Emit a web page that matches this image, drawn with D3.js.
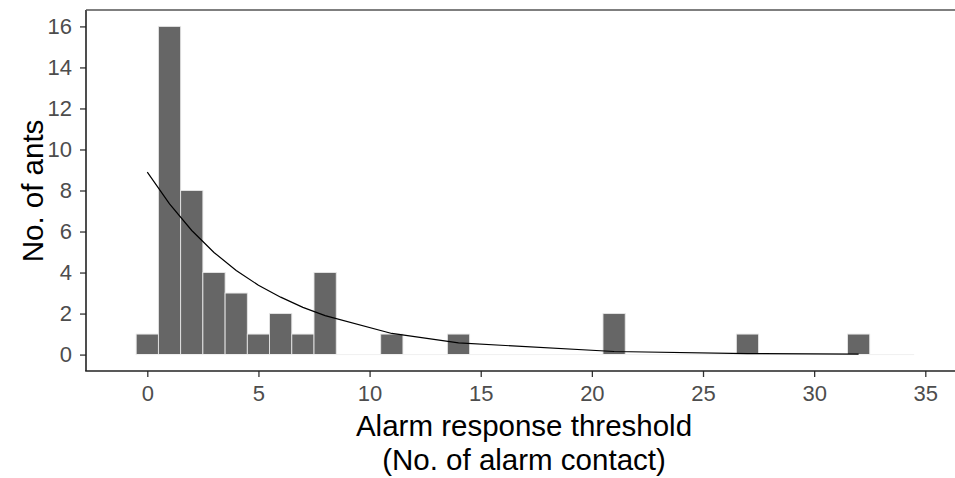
<!DOCTYPE html>
<html>
<head>
<meta charset="utf-8">
<script src="https://cdn.jsdelivr.net/npm/d3@7/dist/d3.min.js"></script>
<style>
  html, body { margin: 0; padding: 0; background: #fff; }
  svg { display: block; font-family: "Liberation Sans", Arial, sans-serif; }
</style>
</head>
<body>
<svg id="chart" width="955" height="478"></svg>
<script>
// Histogram of alarm response thresholds (bin width 1, bins centred on integers)
const thresholds = [0, 1, 2, 3, 4, 5, 6, 7, 8, 9, 10, 11, 12, 13, 14, 15, 16, 17,
  18, 19, 20, 21, 22, 23, 24, 25, 26, 27, 28, 29, 30, 31, 32, 33, 34];
const antCounts = [1, 16, 8, 4, 3, 1, 2, 1, 4, 0, 0, 1, 0, 0, 1, 0, 0, 0,
  0, 0, 0, 2, 0, 0, 0, 0, 0, 1, 0, 0, 0, 0, 1, 0, 0];

// Fitted exponential curve, evaluated at the observed thresholds
const fitX = [0, 1, 2, 3, 4, 5, 6, 7, 8, 11, 14, 21, 27, 32];
const fitY = [8.9, 7.35, 6.05, 4.98, 4.1, 3.38, 2.8, 2.3, 1.9, 1.03, 0.57, 0.15, 0.05, 0.02];

const xTicks = [0, 5, 10, 15, 20, 25, 30, 35];
const yTicks = [0, 2, 4, 6, 8, 10, 12, 14, 16];

const svg = d3.select("#chart");
const plotLeft = 86, plotRight = 955, plotTop = 10, plotBottom = 371;

const x = d3.scaleLinear().domain([0, 35]).range([147.3, 925.3]);
const y = d3.scaleLinear().domain([-0.8, 16.8]).range([plotBottom, plotTop]);

// bars
const bins = thresholds.map((t, i) => ({ t, n: antCounts[i] }));
svg.append("g").selectAll("rect").data(bins).join("rect")
  .attr("x", d => x(d.t - 0.5))
  .attr("width", d => x(d.t + 0.5) - x(d.t - 0.5))
  .attr("y", d => y(d.n))
  .attr("height", d => y(0) - y(d.n))
  .attr("fill", "#666666")
  .attr("stroke", d => d.n > 0 ? "#e6e6e6" : "#f2f2f2")
  .attr("stroke-width", 0.9);

// zero-count baseline
svg.append("line")
  .attr("x1", x(-0.5)).attr("x2", x(34.5))
  .attr("y1", y(0)).attr("y2", y(0))
  .attr("stroke", "#f0f0f0").attr("stroke-width", 1);

// fitted curve
const fitPts = fitX.map((v, i) => [v, fitY[i]]);
svg.append("path")
  .datum(fitPts)
  .attr("d", d3.line().x(d => x(d[0])).y(d => y(d[1])))
  .attr("fill", "none")
  .attr("stroke", "#000")
  .attr("stroke-width", 1.2);

// axes
const xAxis = svg.append("g").attr("transform", `translate(0,${plotBottom})`)
  .call(d3.axisBottom(x).tickValues(xTicks).tickSize(6).tickPadding(8).tickFormat(d3.format("d")));
const yAxis = svg.append("g").attr("transform", `translate(${plotLeft},0)`)
  .call(d3.axisLeft(y).tickValues(yTicks).tickSize(6).tickPadding(8).tickFormat(d3.format("d")));

[xAxis, yAxis].forEach(g => {
  g.select(".domain").remove();
  g.selectAll(".tick line").attr("stroke", "#333").attr("stroke-width", 1.3);
  g.selectAll(".tick text").attr("fill", "#4d4d4d").style("font-size", "22px");
});

// axis lines and top frame
svg.append("line").attr("x1", plotLeft).attr("x2", plotLeft).attr("y1", plotTop).attr("y2", plotBottom)
  .attr("stroke", "#222").attr("stroke-width", 1.6);
svg.append("line").attr("x1", plotLeft - 0.8).attr("x2", plotRight).attr("y1", plotBottom).attr("y2", plotBottom)
  .attr("stroke", "#222").attr("stroke-width", 1.6);
svg.append("line").attr("x1", plotLeft).attr("x2", plotRight).attr("y1", plotTop).attr("y2", plotTop)
  .attr("stroke", "#555").attr("stroke-width", 1.4);

// titles
svg.append("text")
  .attr("transform", `translate(43,191) rotate(-90)`)
  .attr("text-anchor", "middle")
  .style("font-size", "29.5px").attr("fill", "#000")
  .text("No. of ants");

svg.append("text")
  .attr("x", 524).attr("y", 436)
  .attr("text-anchor", "middle")
  .style("font-size", "29.5px").attr("fill", "#000")
  .text("Alarm response threshold");
svg.append("text")
  .attr("x", 524).attr("y", 470)
  .attr("text-anchor", "middle")
  .style("font-size", "29.5px").attr("fill", "#000")
  .text("(No. of alarm contact)");
</script>
</body>
</html>
